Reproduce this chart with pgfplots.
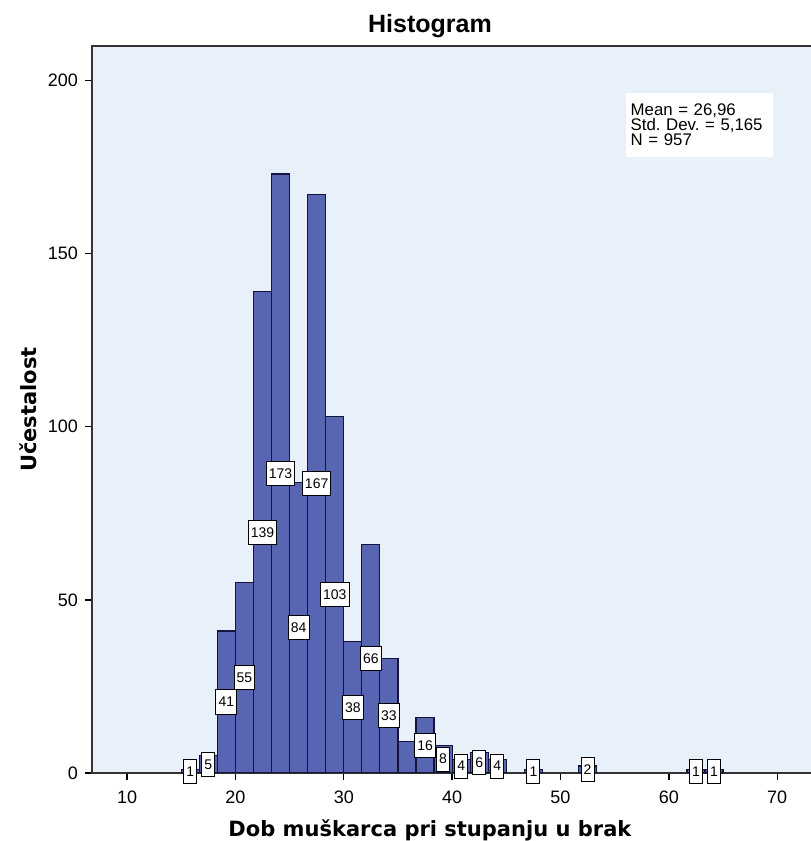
\documentclass[border=0pt]{standalone}
\usepackage{pgfplots}
\pgfplotsset{compat=1.18}
\usepackage{pgfplotstable}
\usepackage{fontspec}
\setmainfont{Liberation Sans}
\newfontfamily\labelfont{DejaVu Sans}

\definecolor{bgblue}{RGB}{232,240,250}
\definecolor{barblue}{RGB}{88,101,178}
\definecolor{baredge}{RGB}{20,20,60}

% bin centres (bin width 5/3) and counts
\pgfplotstableread{
x n
15.833 1
17.500 5
19.167 41
20.833 55
22.500 139
24.167 173
25.833 84
27.500 167
29.167 103
30.833 38
32.500 66
34.167 33
35.833 9
37.500 16
39.167 8
40.833 4
42.500 6
44.167 4
47.500 1
52.500 2
62.500 1
64.167 1
}\bins

% boxed count labels (the 9 is hidden in the original)
\pgfplotstableread{
x n
15.833 1
17.500 5
19.167 41
20.833 55
22.500 139
24.167 173
25.833 84
27.500 167
29.167 103
30.833 38
32.500 66
34.167 33
37.500 16
39.167 8
40.833 4
42.500 6
44.167 4
47.500 1
52.500 2
62.500 1
64.167 1
}\countlabels

\begin{document}
\begin{tikzpicture}
\begin{axis}[
    name=ax,
    scale only axis,
    width=369.5pt, height=363.3pt,
    xmin=6.77, xmax=75, ymin=0, ymax=210,
    axis background/.style={fill=bgblue},
    axis line style={draw=black!80, line width=0.8pt},
    xtick={10,20,...,70}, ytick={0,50,...,200},
    xtick pos=lower, ytick pos=left,
    tick align=outside, major tick length=3.5pt,
    tick style={black, line width=0.7pt},
    tick label style={font=\fontsize{9}{10}\selectfont},
    xticklabel style={yshift=-2pt},
    /pgf/number format/assume math mode=true,
    every axis title shift=0pt,
    title=Histogram,
    title style={font=\bfseries\fontsize{12.5}{14}\selectfont,
        at={(axis description cs:0.457,1)}, anchor=center, yshift=10pt},
    xlabel={Dob muškarca pri stupanju u brak},
    xlabel style={font=\labelfont\bfseries\fontsize{10.5}{12}\selectfont,
        at={(axis description cs:0.457,-0.0784)}, anchor=center},
    ylabel={Učestalost},
    ylabel style={font=\labelfont\bfseries\fontsize{10.5}{12}\selectfont,
        at={(axis description cs:-0.0866,0.5)}, anchor=center},
]
\addplot[ybar, bar width=1.6667, bar shift=0pt,
    fill=barblue, draw=baredge, line width=0.6pt]
    table[x=x, y=n] {\bins};

\addplot[only marks, mark=none,
    point meta=\thisrow{n},
    nodes near coords,
    every node near coord/.append style={anchor=center, draw=black, fill=white,
        font=\fontsize{7}{8}\selectfont, inner xsep=1.3pt, inner ysep=0pt,
        minimum height=12pt, line width=0.5pt}]
    table[x=x, y expr=\thisrow{n}/2] {\countlabels};

\node[fill=white, anchor=north west, align=left, inner xsep=2.5pt,
    inner ysep=2pt, minimum height=32pt,
    text width=68.5pt, font=\fontsize{8.4}{7.6}\selectfont]
    at (axis cs:55.98,196.6)
    {Mean = 26,96\\Std.~Dev.~=~5,165\\N = 957};
\end{axis}
\pgfresetboundingbox
\path ([shift={(-46pt,-34pt)}]ax.south west)
    rectangle ([shift={(359pt,386.3pt)}]ax.south west);
\end{tikzpicture}
\end{document}
